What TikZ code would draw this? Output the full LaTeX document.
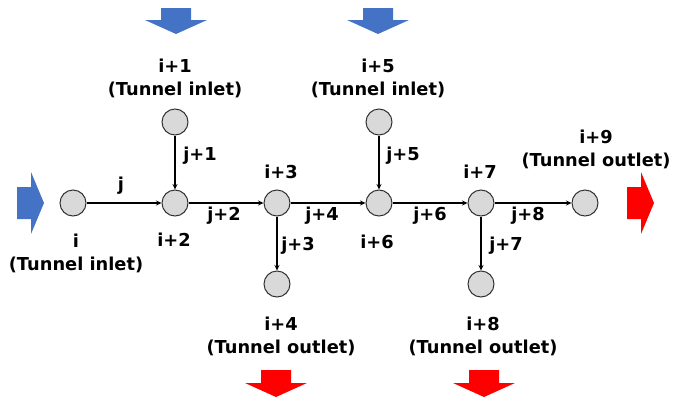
\documentclass[tikz,border=0pt]{standalone}
\usepackage{fontspec}
\setmainfont{DejaVu Sans}
\usetikzlibrary{arrows.meta}
\definecolor{inblue}{HTML}{4472C4}
\definecolor{outred}{HTML}{FF0000}
\definecolor{nodegray}{HTML}{D9D9D9}
\tikzset{
  junction/.style={circle, draw=black!80, fill=nodegray, line width=1pt, minimum size=26pt, inner sep=0pt},
  lbl/.style={font=\bfseries\fontsize{17.8}{23}\selectfont, align=center, inner sep=0pt},
  flow/.style={draw=black, line width=1.2pt, -{Stealth[length=5.5pt,width=5pt]}},
  inarrow/.style={fill=inblue, draw=none},
  outarrow/.style={fill=outred, draw=none}
}
\begin{document}
\begin{tikzpicture}[x=1pt,y=-1pt]
\useasboundingbox (0,0) rectangle (674,399);
% nodes
\node[junction] (n0) at (73,203) {};
\node[junction] (n1) at (175,122) {};
\node[junction] (n2) at (175,203) {};
\node[junction] (n3) at (277,203) {};
\node[junction] (n4) at (277,284) {};
\node[junction] (n5) at (379,122) {};
\node[junction] (n6) at (379,203) {};
\node[junction] (n7) at (481,203) {};
\node[junction] (n8) at (481,284) {};
\node[junction] (n9) at (585,203) {};
% connectors
\draw[flow] (n0) -- (n2);
\draw[flow] (n1) -- (n2);
\draw[flow] (n2) -- (n3);
\draw[flow] (n3) -- (n4);
\draw[flow] (n3) -- (n6);
\draw[flow] (n5) -- (n6);
\draw[flow] (n6) -- (n7);
\draw[flow] (n7) -- (n8);
\draw[flow] (n7) -- (n9);
% node labels
\node[lbl] (t0) at (76,253) {i\\(Tunnel inlet)};
\node[lbl] (t1) at (175,78) {i+1\\(Tunnel inlet)};
\node[lbl] (t2) at (174,240) {i+2};
\node[lbl] (t3) at (281,172) {i+3};
\node[lbl] (t4) at (281,336) {i+4\\(Tunnel outlet)};
\node[lbl] (t5) at (378,78) {i+5\\(Tunnel inlet)};
\node[lbl] (t6) at (377,242) {i+6};
\node[lbl] (t7) at (480,172) {i+7};
\node[lbl] (t8) at (483,336) {i+8\\(Tunnel outlet)};
\node[lbl] (t9) at (596,149) {i+9\\(Tunnel outlet)};
% connector labels
\node[lbl] (e0) at (121,186) {j};
\node[lbl] (e1) at (200,156) {j+1};
\node[lbl] (e2) at (224,216) {j+2};
\node[lbl] (e3) at (298,246) {j+3};
\node[lbl] (e4) at (322,216) {j+4};
\node[lbl] (e5) at (403,156) {j+5};
\node[lbl] (e6) at (430,216) {j+6};
\node[lbl] (e7) at (506,246) {j+7};
\node[lbl] (e8) at (528,216) {j+8};
% block arrows: inlets (blue)
\fill[inarrow] (161,8) -- (191,8) -- (191,20) -- (207,20) -- (176,34) -- (145,20) -- (161,20) -- cycle;
\fill[inarrow] (363,8) -- (393,8) -- (393,20) -- (409,20) -- (378,34) -- (347,20) -- (363,20) -- cycle;
\fill[inarrow] (17,187) -- (31,187) -- (31,172) -- (44,203) -- (31,234) -- (31,219) -- (17,219) -- cycle;
% block arrows: outlets (red)
\fill[outarrow] (261,370) -- (291,370) -- (291,383) -- (307,383) -- (276,397) -- (245,383) -- (261,383) -- cycle;
\fill[outarrow] (469,370) -- (499,370) -- (499,383) -- (515,383) -- (484,397) -- (453,383) -- (469,383) -- cycle;
\fill[outarrow] (627,187) -- (641,187) -- (641,172) -- (654,203) -- (641,234) -- (641,219) -- (627,219) -- cycle;
\end{tikzpicture}
\end{document}
